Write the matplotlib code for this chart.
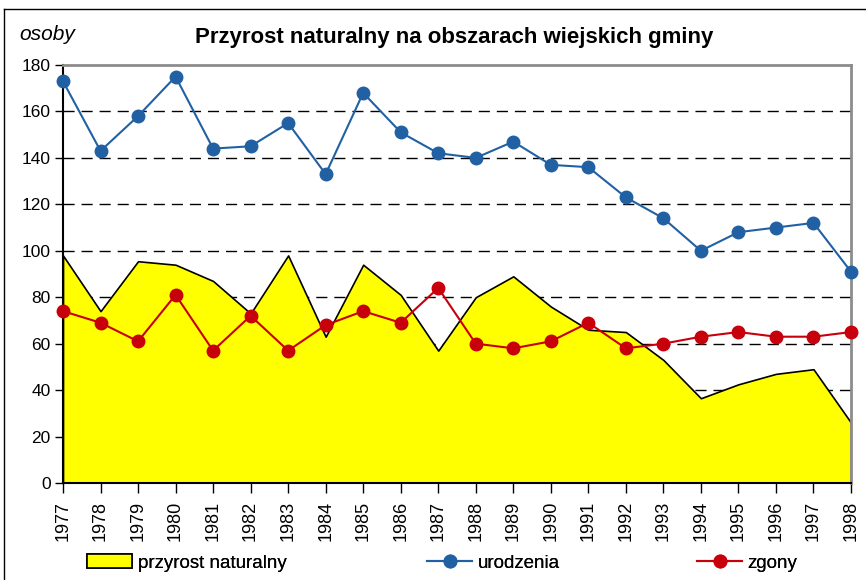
import numpy as np
import matplotlib
matplotlib.use('Agg')
import matplotlib.pyplot as plt
from matplotlib.lines import Line2D
from matplotlib.patches import Patch

plt.rcParams['font.family'] = ['Liberation Sans', 'DejaVu Sans']

# dane
lata = list(range(1977, 1999))
urodzenia = [173, 143, 158, 175, 144, 145, 155, 133, 168, 151, 142,
             140, 147, 137, 136, 123, 114, 100, 108, 110, 112, 91]
zgony = [74, 69, 61, 81, 57, 72, 57, 68, 74, 69, 84,
         60, 58, 61, 69, 58, 60, 63, 65, 63, 63, 65]
przyrost = [98, 74, 95.5, 94, 87, 73, 98, 63, 94, 81, 57,
            80, 89, 76, 66, 65, 53, 36.5, 42.5, 47, 49, 26]

tytul = 'Przyrost naturalny na obszarach wiejskich gminy'
niebieski = '#2161A3'
czerwony = '#C8000B'

fig = plt.figure(figsize=(8.66, 5.8), dpi=100)
ax = fig.add_axes([63/866, 1-483/580, 788/866, 418/580])

# wypelnienie przyrostu
ax.fill_between(lata, przyrost, 0, facecolor='#FFFF00', edgecolor='black',
                linewidth=1.2, zorder=2)
ax.plot(lata, urodzenia, color=niebieski, lw=1.5, marker='o', ms=9,
        zorder=4, clip_on=False)
ax.plot(lata, zgony, color=czerwony, lw=1.5, marker='o', ms=9,
        zorder=4, clip_on=False)

ax.set_xlim(1977, 1998)
ax.set_ylim(0, 180)
ax.set_yticks(range(0, 181, 20))
ax.set_xticks(lata)
ax.set_xticklabels([str(r) for r in lata], rotation=90, fontsize=13)
ax.tick_params(axis='y', labelsize=12.5, length=6, width=1, pad=3)
ax.tick_params(axis='x', length=7, width=1, pad=6)

for y in range(20, 180, 20):
    ax.axhline(y, color='black', lw=1, dashes=(8, 5), zorder=1)

for s in ['left', 'bottom']:
    ax.spines[s].set_color('black')
    ax.spines[s].set_linewidth(1.5)
for s in ['top', 'right']:
    ax.spines[s].set_color('#8C8C8C')
    ax.spines[s].set_linewidth(2)

fig.text(454/866, 1-37/580, tytul, ha='center', va='center',
         fontsize=16, fontweight='bold')
fig.text(19/866, 1-35/580, 'osoby', ha='left', va='center',
         fontsize=15, style='italic')

# ramka wykresu
fig.add_artist(Line2D([4/866, 1], [1-9/580, 1-9/580], color='black', lw=1))
fig.add_artist(Line2D([4/866, 4/866], [0, 1-9/580], color='black', lw=1))

uchwyty = [Patch(facecolor='#FFFF00', edgecolor='black', lw=1.2),
           Line2D([], [], color=niebieski, lw=1.5, marker='o', ms=9),
           Line2D([], [], color=czerwony, lw=1.5, marker='o', ms=9)]
etykiety = ['przyrost naturalny', 'urodzenia', 'zgony']
pozycje_x = [87, 427, 697]
for h, e, px in zip(uchwyty, etykiety, pozycje_x):
    fig.add_artist(fig.legend([h], [e], loc='center left',
                              bbox_to_anchor=(px/866, 1-563/580),
                              frameon=False, fontsize=13.5, handlelength=2.4,
                              handletextpad=0.3, borderpad=0,
                              borderaxespad=0))

fig.savefig('out.png', dpi=100)
